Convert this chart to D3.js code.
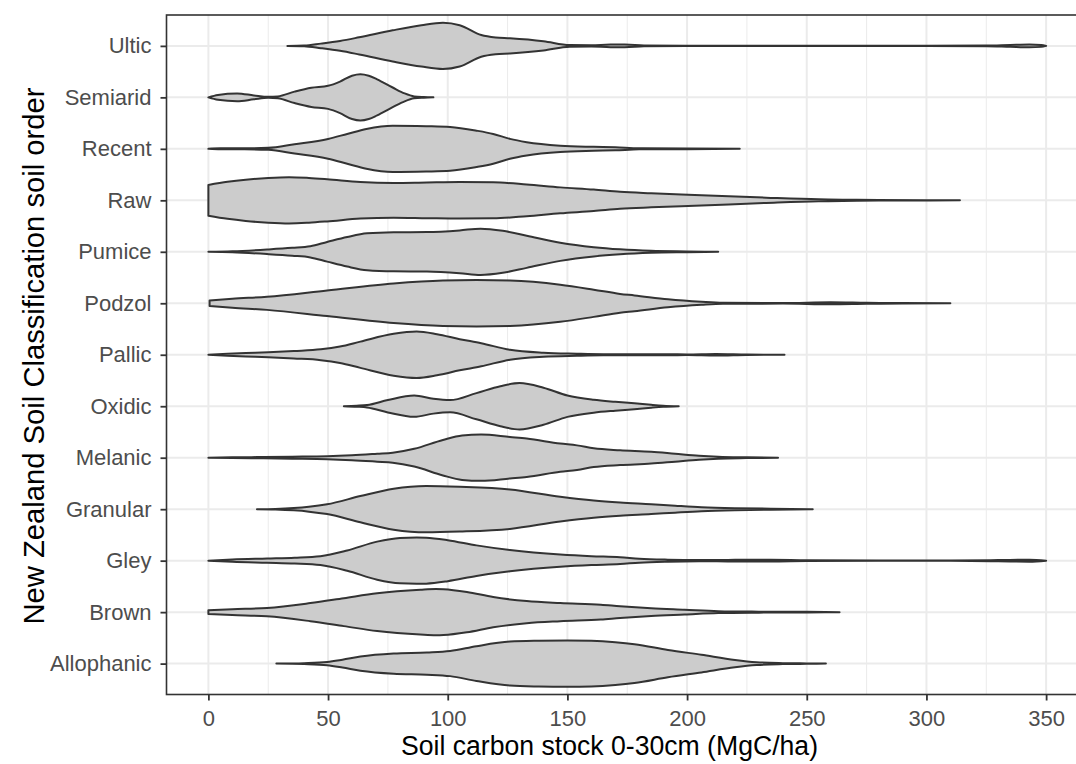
<!DOCTYPE html>
<html>
<head>
<meta charset="utf-8">
<script src="https://cdn.jsdelivr.net/npm/d3@7"></script>
<style>
  html, body { margin: 0; padding: 0; background: #fff; }
  svg { display: block; font-family: "Liberation Sans", Arial, Helvetica, sans-serif; }
</style>
</head>
<body>
<svg id="chart" width="1076" height="764"></svg>
<script>
// ---- data ----
// categories, top to bottom
const categories = ["Ultic", "Semiarid", "Recent", "Raw", "Pumice", "Podzol", "Pallic",
                    "Oxidic", "Melanic", "Granular", "Gley", "Brown", "Allophanic"];

// violin outlines: [soil carbon stock, relative density width]
const ultic = [[33,0],[40,0.3],[47,2.3],[55,5],[63,8.7],[77,15.8],[89,21],[98,23.5],[105,21],[114,11],
  [120,8.5],[126,7.7],[140,4.7],[151,0.8],[160,0.6],[168,1.3],[174,1.3],[182,0.4],[200,0.15],[250,0.1],
  [300,0.15],[325,0.3],[335,1],[343,1.5],[348,1],[350,0]];
const semiarid = [[0,0],[4,2.5],[12,4],[19,2],[25,0.5],[29,1],[36,5.8],[43,9.7],[50,11.7],[55,16],
  [60,22],[63.5,23.5],[67,22],[70.5,18.3],[77,10],[82,4],[86,1],[90,0.3],[94,0]];
const recent = [[0,0],[5,0.5],[15,0.5],[25,1],[36,4.7],[50,10],[58,15],[66,20],[77,23.3],[91,22.8],
  [101,22],[112,18.3],[119,15],[126,10],[133,6.7],[147,3.2],[161,2],[170,1.5],[180,0.5],[200,0.3],[222,0]];
const raw = [[0,15.8],[8,19],[15.6,21.2],[25,23],[33.7,23.8],[42,23],[49.6,21.7],[63.5,18.8],[77.4,17.8],
  [91.3,18.3],[105,18.7],[119,18.5],[133,16.3],[147,13.3],[161,11],[172,8.7],[185,7.2],[206,5.3],[233,2.7],
  [255,1],[265,0.7],[280,0.3],[300,0.15],[314,0]];
const pumice = [[0,0],[10,0.5],[24.5,2.3],[35,4],[42.6,5.7],[49.6,10],[58,15],[66.3,18.7],[77.4,19.8],
  [91.3,20],[105,21.7],[113.7,23.5],[123,21.3],[133,16.3],[147,9.2],[161,4.7],[172,2.5],[185,1],[200,0.4],[213,0]];
const podzol = [[0.5,2.7],[10,4.5],[24.5,6.7],[49.6,13],[77.4,20],[98,23],[112,23.5],[126,23],[147,18.8],
  [161,13.8],[172,9.5],[178,8],[192,4],[206,1.5],[215,0.5],[240,0.3],[260,1],[275,0.5],[290,0.2],[310,0]];
const pallic = [[0,0],[8,1],[15.6,1.7],[25,2.5],[35.7,3.8],[47,5.5],[55,8.3],[63.5,13.3],[77.4,21.2],
  [87,23.5],[95.5,20.8],[105,15.8],[114,11.7],[126,5],[140,2],[154,1],[165,0.5],[180,0.4],[192,0.6],
  [200,0.3],[212,0.8],[225,0.2],[240.7,0]];
const oxidic = [[56.6,0],[62,0.5],[66.3,1.2],[75,6.3],[86,10.8],[94,7.5],[101,6.2],[112,13.3],[122,20.3],
  [130,23.5],[140,18.8],[150,10.8],[161,6.5],[170,4.5],[178,3],[185,1.5],[190,0.6],[196.5,0]];
const melanic = [[0,0],[10,0.4],[20,0.6],[35,1],[49.6,1.5],[60,2.5],[70.5,4],[77,5],[86,9],[98,18],
  [106,22.5],[114,23.5],[126,21],[133,19.5],[147,14.3],[154,12.5],[161,9.5],[172,7.5],[185,6],[195,4],
  [205,2],[213,1],[225,0.4],[238,0]];
const granular = [[20.3,0],[28,0.3],[35.7,1.2],[42,2.5],[49.6,5],[63.5,13.3],[77.4,20.8],[91,23.5],
  [105,22.7],[126,20],[147,12.5],[161,8.7],[172,6.7],[185,5],[195,3.5],[206,2],[220,1],[235,0.5],[252.5,0]];
const gley = [[0,0],[10,1.2],[24.5,2.2],[36,3],[46.8,4.5],[58,10.3],[70.5,19.3],[80,23],[87,23.5],
  [91,23.3],[100,20.8],[112,15.5],[126,10.8],[147,6.2],[160,4.5],[172,3.5],[180,2],[192,1],[205,0.6],
  [220,0.8],[235,0.8],[250,0.4],[280,0.2],[310,0.2],[330,0.6],[343,1],[350,0]];
const brown = [[0,2],[10,3],[24.5,4.2],[42.6,9.2],[56.6,14.2],[70.5,19.2],[88.6,22.8],[95,23.5],
  [98.3,23.3],[108,20.5],[119,15.3],[133,11.2],[147,9.2],[164,7.5],[172,6],[185,4],[199,2.5],[213,1],
  [230,0.5],[250,0.3],[263.7,0]];
const allophanic = [[28.4,0],[40,0.5],[49.6,1.7],[56,4],[63.5,7.2],[77.4,10.3],[91.3,11.3],[101,12.8],
  [112,17.8],[126,22.5],[138,23.4],[150,23.7],[160,23.3],[170,21.8],[178,19.8],[192,14],[206,9],
  [220,3.8],[229,1.5],[240,0.5],[250,0.2],[258,0]];

const violins = [ultic, semiarid, recent, raw, pumice, podzol, pallic, oxidic, melanic, granular, gley, brown, allophanic];

const xTicks = [0, 50, 100, 150, 200, 250, 300, 350];
const xMinor = [25, 75, 125, 175, 225, 275, 325];
const xTitle = "Soil carbon stock 0-30cm (MgC/ha)";
const yTitle = "New Zealand Soil Classification soil order";

// ---- layout ----
const W = 1076, H = 764;
const panel = { left: 166.5, right: 1088, top: 15, bottom: 694.5 };

const svg = d3.select("#chart");

const x = d3.scaleLinear().domain([-17.5, 367.5]).range([panel.left, panel.right]);
const y = d3.scalePoint().domain(categories).range([panel.top, panel.bottom]).padding(0.6);
const halfMax = y.step() * 0.45;

svg.append("rect").attr("width", W).attr("height", H).attr("fill", "#fff");

// grid
const grid = svg.append("g");
grid.selectAll("line.minor").data(xMinor).join("line")
  .attr("x1", d => x(d)).attr("x2", d => x(d))
  .attr("y1", panel.top).attr("y2", panel.bottom)
  .attr("stroke", "#ebebeb").attr("stroke-width", 1);
grid.selectAll("line.majorx").data(xTicks).join("line")
  .attr("x1", d => x(d)).attr("x2", d => x(d))
  .attr("y1", panel.top).attr("y2", panel.bottom)
  .attr("stroke", "#ebebeb").attr("stroke-width", 2);
grid.selectAll("line.majory").data(categories).join("line")
  .attr("x1", panel.left).attr("x2", panel.right)
  .attr("y1", d => y(d)).attr("y2", d => y(d))
  .attr("stroke", "#ebebeb").attr("stroke-width", 2);

// violins
const gV = svg.append("g");
categories.forEach((cat, i) => {
  const pts = violins[i];
  const m = d3.max(pts, p => p[1]);
  const cy = y(cat);
  const area = d3.area()
    .x(p => x(p[0]))
    .y0(p => cy + p[1] / m * halfMax)
    .y1(p => cy - p[1] / m * halfMax)
    .curve(d3.curveMonotoneX);
  gV.append("path")
    .attr("d", area(pts))
    .attr("fill", "#cccccc")
    .attr("stroke", "#333333")
    .attr("stroke-width", 2)
    .attr("stroke-linejoin", "round");
});

// panel border
svg.append("rect")
  .attr("x", panel.left).attr("y", panel.top)
  .attr("width", panel.right - panel.left).attr("height", panel.bottom - panel.top)
  .attr("fill", "none").attr("stroke", "#333333").attr("stroke-width", 1.6);

// axes
const xAxis = svg.append("g").attr("transform", `translate(0,${panel.bottom})`)
  .call(d3.axisBottom(x).tickValues(xTicks).tickSize(6).tickPadding(10).tickFormat(d3.format("d")));
xAxis.select(".domain").remove();
xAxis.selectAll(".tick line").attr("stroke", "#333333").attr("stroke-width", 1.8);
xAxis.selectAll(".tick text").attr("fill", "#4d4d4d").style("font-size", "22px")
  .attr("font-family", "Liberation Sans, Arial, sans-serif");

const yAxis = svg.append("g").attr("transform", `translate(${panel.left},0)`)
  .call(d3.axisLeft(y).tickSize(6).tickPadding(9));
yAxis.select(".domain").remove();
yAxis.selectAll(".tick line").attr("stroke", "#333333").attr("stroke-width", 1.8);
yAxis.selectAll(".tick text").attr("fill", "#4d4d4d").style("font-size", "22px")
  .attr("font-family", "Liberation Sans, Arial, sans-serif");

// titles
svg.append("text")
  .attr("x", 609.5).attr("y", 755)
  .attr("text-anchor", "middle")
  .attr("fill", "#000")
  .style("font-size", "27px")
  .attr("textLength", 417)
  .attr("lengthAdjust", "spacingAndGlyphs")
  .text(xTitle);

svg.append("text")
  .attr("transform", `translate(44,356) rotate(-90)`)
  .attr("text-anchor", "middle")
  .attr("fill", "#000")
  .style("font-size", "29px")
  .attr("textLength", 537)
  .attr("lengthAdjust", "spacingAndGlyphs")
  .text(yTitle);
</script>
</body>
</html>
